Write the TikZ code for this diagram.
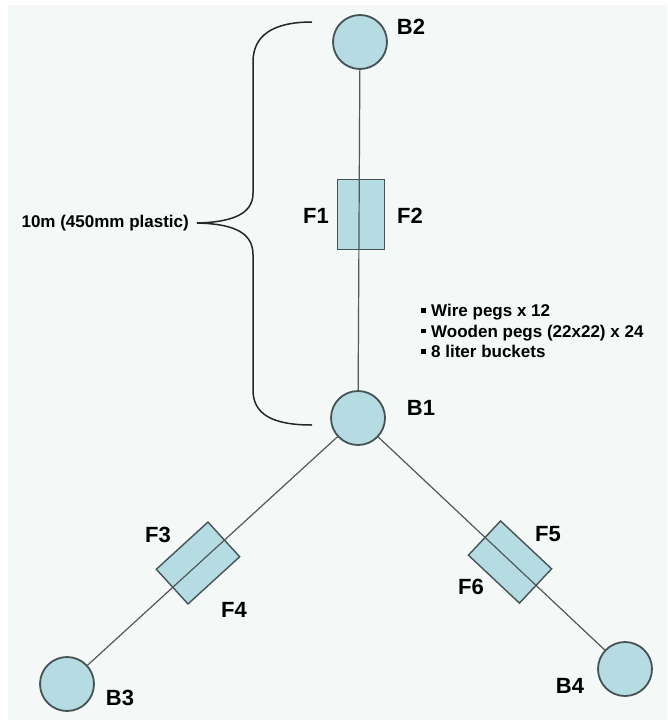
\documentclass[tikz,border=0pt]{standalone}
\usepackage{fontspec}
\setmainfont{Liberation Sans}
\definecolor{bgtint}{RGB}{244,249,247}
\definecolor{bluefill}{RGB}{180,220,226}
\definecolor{edgegray}{RGB}{70,82,84}
\definecolor{wiregray}{RGB}{80,88,88}
\newcommand\bulsq{\rule[0.22em]{4.5pt}{4.5pt}\hspace{5.5pt}}
\begin{document}
\begin{tikzpicture}[x=1pt,y=-1pt,
  bnode/.style={circle,draw=edgegray,fill=bluefill,line width=1.8pt,minimum size=54pt,inner sep=0pt},
  fbox/.style={rectangle,draw=edgegray,fill=bluefill,line width=1.4pt,minimum width=70pt,minimum height=47pt,inner sep=0pt},
  wire/.style={draw=wiregray,line width=1.2pt},
  lbl/.style={font=\fontsize{22}{24}\selectfont\bfseries,inner sep=0pt,text=black},
  txt/.style={font=\fontsize{17}{20.5}\selectfont\bfseries,inner sep=0pt,text=black},
  bracestyle/.style={draw=black!85,line width=1.5pt}]
\useasboundingbox (0,0) rectangle (667,725);
\fill[white] (0,0) rectangle (667,725);
\fill[bgtint] (8,5) rectangle (667,720);
% nodes
\node[bnode] (B2) at (360,42) {};
\node[bnode] (B1) at (358,418) {};
\node[bnode] (B3) at (67,684) {};
\node[bnode] (B4) at (625,669) {};
\node[fbox,rotate=90] (F12) at (361,214.5) {};
\node[fbox,rotate=42.4] (F34) at (198,563) {};
\node[fbox,rotate=-43.2] (F56) at (510,562) {};
% connectors
\draw[wire] (B2) -- (B1);
\draw[wire] (B1) -- (B3);
\draw[wire] (B1) -- (B4);
% labels
\node[lbl] (lB2) at (411,27) {B2};
\node[lbl] (lB1) at (421,408) {B1};
\node[lbl] (lB3) at (120,698) {B3};
\node[lbl] (lB4) at (570,686) {B4};
\node[lbl] (lF1) at (316,216) {F1};
\node[lbl] (lF2) at (410,216) {F2};
\node[lbl] (lF3) at (158,535) {F3};
\node[lbl] (lF4) at (234,610) {F4};
\node[lbl] (lF5) at (548,534) {F5};
\node[lbl] (lF6) at (471,587) {F6};
% list
\node[txt,anchor=west,align=left] (list) at (421,331) {\bulsq Wire pegs x 12\\ \bulsq Wooden pegs (22x22) x 24\\ \bulsq 8 liter buckets};
% brace
\coordinate (brtop) at (312,22);
\coordinate (brtip) at (197,223);
\coordinate (brbot) at (312,425);
\draw[bracestyle] (brtop) .. controls (272,22) and (253,36) .. (253,62) -- (253,193)
  .. controls (253,210) and (240,222) .. (brtip)
  .. controls (240,224) and (253,236) .. (253,255) -- (253,390)
  .. controls (253,414) and (272,425) .. (brbot);
\node[txt,anchor=east] (dim) at (189,223) {10m (450mm plastic)};
\end{tikzpicture}
\end{document}
